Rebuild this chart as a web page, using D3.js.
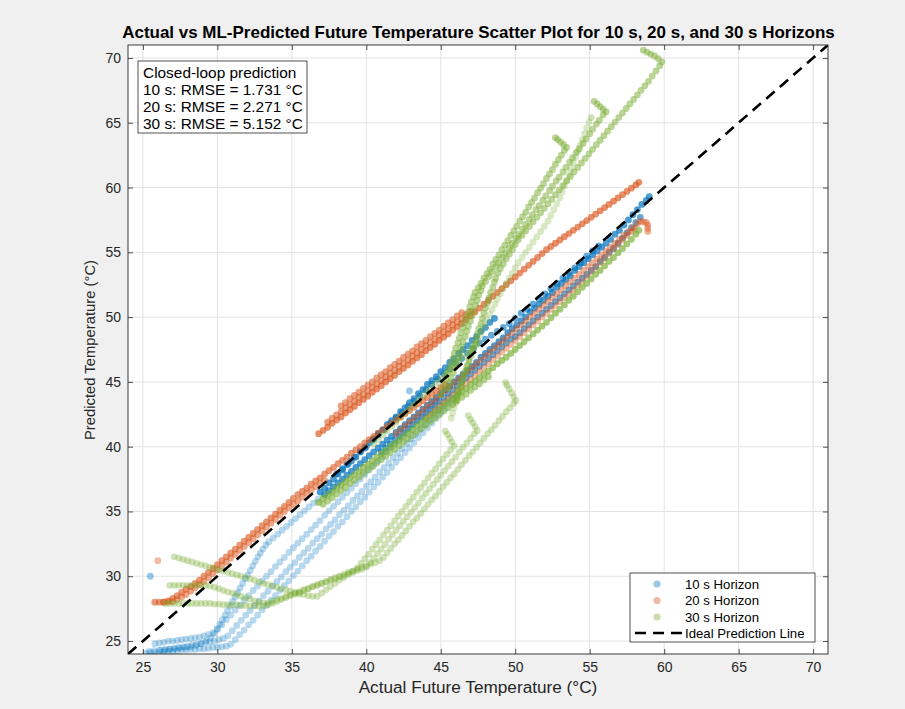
<!DOCTYPE html>
<html>
<head>
<meta charset="utf-8">
<script src="https://cdn.jsdelivr.net/npm/d3@7"></script>
<style>
  body { margin: 0; background: #f0f0f0; }
  svg { display: block; font-family: "Liberation Sans", Arial, Helvetica, sans-serif; }
</style>
</head>
<body>
<svg id="chart" width="905" height="709"></svg>
<script>
// ---------- data ----------
const axisRange = [24, 71];
const xTicks = [25, 30, 35, 40, 45, 50, 55, 60, 65, 70];
const yTicks = [25, 30, 35, 40, 45, 50, 55, 60, 65, 70];
const horizons = ["10 s", "20 s", "30 s"];
const rmse = [1.731, 2.271, 5.152];
const chartTitle = "Actual vs ML-Predicted Future Temperature Scatter Plot for 10 s, 20 s, and 30 s Horizons";
const xTitle = "Actual Future Temperature (°C)";
const yTitle = "Predicted Temperature (°C)";
const idealLabel = "Ideal Prediction Line";

// 10 s horizon: [actual, predicted] samples, one array per closed-loop run
const blueRuns = [
  [[36.9,36.5],[37.2,36.8],[37.5,37.2],[37.8,37.5],[38.1,37.9],[38.4,38.2],[38.7,38.6],[39.0,38.9],[39.3,39.2],[39.6,39.6],[39.9,39.9],[40.2,40.3],[40.5,40.6],[40.8,41.0],[41.1,41.3],[41.4,41.7],[41.7,42.0],[42.0,42.3],[42.3,42.7],[42.6,43.0],[42.9,43.4],[43.2,43.7],[43.5,44.1],[43.8,44.4],[44.1,44.8],[44.4,45.1],[44.7,45.4],[45.0,45.8],[45.3,46.1],[45.6,46.5],[45.9,46.8],[46.2,47.2],[46.5,47.5],[46.8,47.8],[47.1,48.2],[47.4,48.5],[47.7,48.9],[48.0,49.2],[48.3,49.6],[48.6,49.9]],
  [[37.2,36.3],[37.5,36.6],[37.8,36.9],[38.1,37.2],[38.4,37.5],[38.7,37.8],[39.0,38.1],[39.3,38.4],[39.6,38.7],[39.9,39.0],[40.2,39.3],[40.5,39.6],[40.8,39.9],[41.1,40.2],[41.4,40.5],[41.7,40.8],[42.0,41.1],[42.3,41.4],[42.6,41.7],[42.9,42.0],[43.2,42.3],[43.5,42.6],[43.8,42.9],[44.1,43.2],[44.4,43.5],[44.7,43.8],[45.0,44.1],[45.3,44.4],[45.6,44.7],[45.9,45.0],[46.2,45.3],[46.5,45.6],[46.8,45.9],[47.1,46.2],[47.4,46.5],[47.7,46.9],[48.0,47.2],[48.3,47.5],[48.6,47.8],[48.9,48.1],[49.2,48.4],[49.5,48.8],[49.8,49.1],[50.1,49.4],[50.4,49.7],[50.7,50.0],[51.0,50.4],[51.3,50.7],[51.6,51.0],[51.9,51.3],[52.2,51.6],[52.5,51.9],[52.8,52.3],[53.1,52.6],[53.4,52.9],[53.7,53.2],[54.0,53.6],[54.3,53.9],[54.6,54.2],[54.9,54.5],[55.2,54.8],[55.5,55.1],[55.8,55.4],[56.1,55.7],[56.4,56.0],[56.7,56.4],[57.0,56.7],[57.3,57.1],[57.6,57.5],[57.9,57.9],[58.2,58.3],[58.5,58.7],[58.8,59.0],[59.0,59.3]],
  [[41.0,39.6],[41.3,39.9],[41.6,40.2],[41.9,40.5],[42.2,40.8],[42.5,41.1],[42.8,41.4],[43.1,41.7],[43.4,42.0],[43.7,42.3],[44.0,42.6],[44.3,42.9],[44.6,43.2],[44.9,43.5],[45.2,43.8],[45.5,44.1],[45.8,44.4],[46.1,44.7],[46.4,45.0],[46.7,45.3],[47.0,45.6],[47.3,45.9],[47.6,46.2],[47.9,46.5],[48.2,46.8],[48.5,47.1],[48.8,47.4],[49.1,47.7],[49.4,48.0],[49.7,48.3],[50.0,48.5],[50.3,48.8],[50.6,49.1],[50.9,49.4],[51.2,49.7],[51.5,50.0],[51.8,50.3],[52.1,50.6],[52.4,50.9],[52.7,51.2],[53.0,51.5],[53.3,51.8],[53.6,52.1],[53.9,52.4],[54.2,52.7],[54.5,53.0],[54.8,53.3],[55.1,53.6],[55.4,53.9],[55.7,54.3],[56.0,54.6],[56.3,55.0],[56.6,55.3],[56.9,55.7],[57.2,56.1],[57.5,56.5],[57.8,56.9],[58.1,57.3],[58.4,57.7]],
  [[38.0,37.9],[38.4,38.3],[38.8,38.7],[39.2,39.2],[39.6,39.6],[40.0,40.0],[40.4,40.5],[40.8,40.9],[41.2,41.3],[41.6,41.8],[42.0,42.2],[42.4,42.6],[42.8,43.1],[43.2,43.5],[43.6,43.9],[44.0,44.4],[44.4,44.8],[44.8,45.2],[45.2,45.6],[45.6,46.0],[46.0,46.4],[46.4,46.8],[46.8,47.2],[47.2,47.6],[47.6,48.0],[48.0,48.3],[48.4,48.6],[48.8,48.9],[49.2,49.2],[49.6,49.5],[50.0,49.9],[50.4,50.3],[50.8,50.6],[51.2,51.0],[51.6,51.4],[52.0,51.8],[52.4,52.2],[52.8,52.6],[53.2,53.0],[53.6,53.4],[54.0,53.8],[54.4,54.2],[54.8,54.7],[55.2,55.1],[55.6,55.5]],
  [[25.4,24.2],[25.75,24.25],[26.1,24.3],[26.45,24.3],[26.8,24.35],[27.15,24.4],[27.5,24.45],[27.85,24.5],[28.2,24.55],[28.55,24.65],[28.9,24.8],[29.25,25.0],[29.55,25.25],[29.8,25.55],[30.0,25.95],[30.17,26.3],[30.34,26.65],[30.51,27.0],[30.68,27.35],[30.85,27.7],[31.02,28.05],[31.19,28.4],[31.36,28.75],[31.53,29.1],[31.7,29.45],[31.87,29.8],[32.04,30.1],[32.21,30.45],[32.38,30.8],[32.55,31.15],[32.72,31.5],[32.89,31.8],[33.06,32.1],[33.25,32.4],[33.45,32.65],[33.75,32.95],[34.05,33.25],[34.35,33.55],[34.65,33.85],[34.95,34.15],[35.25,34.45],[35.55,34.75],[35.85,35.05],[36.15,35.35],[36.45,35.65],[36.75,35.95]],
  [[25.8,24.8],[26.1,24.85],[26.4,24.9],[26.7,25.0],[27.0,25.0],[27.3,25.05],[27.6,25.1],[27.9,25.15],[28.2,25.2],[28.5,25.25],[28.8,25.3],[29.1,25.4],[29.4,25.5],[29.7,25.65],[30.0,25.9],[30.3,26.25],[30.6,26.65],[30.9,27.0],[31.2,27.4],[31.5,27.75],[31.8,28.15],[32.1,28.5],[32.4,28.9],[32.7,29.25],[33.0,29.65],[33.3,30.0],[33.6,30.35],[33.9,30.75],[34.2,31.1],[34.5,31.45],[34.8,31.85],[35.1,32.2],[35.4,32.55],[35.7,32.9],[36.0,33.25],[36.3,33.6],[36.6,33.95],[36.9,34.3],[37.2,34.7],[37.5,35.05],[37.8,35.4],[38.1,35.75],[38.4,36.1],[38.7,36.45],[39.0,36.8],[39.3,37.15],[39.6,37.5],[39.9,37.85],[40.2,38.2],[40.5,38.55],[40.8,38.9],[41.1,39.25],[41.4,39.6],[41.7,39.95],[42.0,40.3],[42.3,40.65],[42.6,41.0],[42.9,41.35],[43.2,41.7],[43.5,42.05],[43.8,42.4],[44.1,42.75],[44.4,43.1],[44.7,43.45]],
  [[26.2,24.3],[26.5,24.35],[26.8,24.4],[27.1,24.45],[27.4,24.5],[27.7,24.55],[28.0,24.6],[28.3,24.7],[28.6,24.75],[28.9,24.8],[29.2,24.9],[29.5,24.95],[29.8,25.0],[30.1,25.1],[30.4,25.2],[30.7,25.4],[31.0,25.8],[31.3,26.2],[31.6,26.6],[31.9,27.0],[32.2,27.35],[32.5,27.75],[32.8,28.1],[33.1,28.5],[33.4,28.85],[33.7,29.25],[34.0,29.6],[34.3,29.95],[34.6,30.35],[34.9,30.7],[35.2,31.05],[35.5,31.45],[35.8,31.8],[36.1,32.15],[36.4,32.55],[36.7,32.9],[37.0,33.25],[37.3,33.65],[37.6,34.0],[37.9,34.35],[38.2,34.75],[38.5,35.1],[38.8,35.45],[39.1,35.85],[39.4,36.2],[39.7,36.55],[40.0,36.95],[40.3,37.3],[40.6,37.65],[40.9,38.05],[41.2,38.4],[41.5,38.75],[41.8,39.15],[42.1,39.5],[42.4,39.85],[42.7,40.25],[43.0,40.6],[43.3,40.95],[43.6,41.35],[43.9,41.7],[44.2,42.05],[44.5,42.45],[44.8,42.8],[45.1,43.15],[45.4,43.55],[45.7,43.9]],
  [[25.2,24.05],[25.5,24.1],[25.8,24.1],[26.1,24.1],[26.4,24.15],[26.7,24.2],[27.0,24.2],[27.3,24.25],[27.6,24.3],[27.9,24.3],[28.2,24.35],[28.5,24.35],[28.8,24.4],[29.1,24.4],[29.4,24.45],[29.7,24.5],[30.0,24.5],[30.3,24.55],[30.6,24.6],[30.9,24.75],[31.2,25.1],[31.5,25.5],[31.8,25.85],[32.1,26.25],[32.4,26.6],[32.7,27.0],[33.0,27.4],[33.3,27.75],[33.6,28.15],[33.9,28.5],[34.2,28.9],[34.5,29.3],[34.8,29.65],[35.1,30.05],[35.4,30.4],[35.7,30.8],[36.0,31.2],[36.3,31.55],[36.6,31.95],[36.9,32.3],[37.2,32.7],[37.5,33.1],[37.8,33.45],[38.1,33.85],[38.4,34.2],[38.7,34.6],[39.0,35.0],[39.3,35.35],[39.6,35.75],[39.9,36.1],[40.2,36.5],[40.5,36.9],[40.8,37.25],[41.1,37.65],[41.4,38.0],[41.7,38.4],[42.0,38.8],[42.3,39.15],[42.6,39.55],[42.9,39.9],[43.2,40.3],[43.5,40.7],[43.8,41.05],[44.1,41.45],[44.4,41.8],[44.7,42.2],[45.0,42.6],[45.3,42.95],[45.6,43.35],[45.9,43.7],[46.2,44.1]]
];
const blueSingles = [[25.5,30.0],[42.9,44.3]];

// 20 s horizon
const orangeRuns = [
  [[25.8,28.0],[26.1,28.0],[26.4,28.0],[26.7,28.1],[27.0,28.3],[27.3,28.5],[27.6,28.75],[27.9,29.0],[28.2,29.2],[28.5,29.45],[28.8,29.7],[29.1,30.0],[29.4,30.3],[29.7,30.6],[30.0,30.9],[30.3,31.2],[30.6,31.5],[30.9,31.8],[31.2,32.1],[31.5,32.4],[31.8,32.7],[32.1,33.0],[32.4,33.3],[32.7,33.6],[33.0,33.9],[33.3,34.2],[33.6,34.5],[33.9,34.8],[34.2,35.1],[34.5,35.4],[34.8,35.7],[35.1,36.0],[35.4,36.3],[35.7,36.55],[36.0,36.8],[36.3,37.1],[36.6,37.35],[36.9,37.6],[37.2,37.9],[37.5,38.15],[37.8,38.4],[38.1,38.7],[38.4,38.95],[38.7,39.2],[39.0,39.5],[39.3,39.75],[39.6,40.0],[39.9,40.3],[40.2,40.55],[40.5,40.8],[40.8,41.05],[41.1,41.3],[41.4,41.55],[41.7,41.8],[42.0,42.05],[42.3,42.3],[42.6,42.55],[42.9,42.8],[43.2,43.05],[43.5,43.3],[43.8,43.55],[44.1,43.8],[44.4,44.05],[44.7,44.3],[45.0,44.55],[45.3,44.8]],
  [[26.4,28.0],[26.7,28.0],[27.0,28.05],[27.3,28.2],[27.6,28.4],[27.9,28.6],[28.2,28.85],[28.5,29.1],[28.8,29.35],[29.1,29.6],[29.4,29.9],[29.7,30.2],[30.0,30.5],[30.3,30.8],[30.6,31.1],[30.9,31.4],[31.2,31.7],[31.5,32.0],[31.8,32.3],[32.1,32.6],[32.4,32.9],[32.7,33.2],[33.0,33.5],[33.3,33.8],[33.6,34.1],[33.9,34.4],[34.2,34.7],[34.5,35.0],[34.8,35.3],[35.1,35.55],[35.4,35.8],[35.7,36.1],[36.0,36.4],[36.3,36.65],[36.6,36.9],[36.9,37.15],[37.2,37.4]],
  [[36.8,41.0],[37.1,41.25],[37.4,41.5],[37.7,41.8],[38.0,42.05],[38.3,42.3],[38.6,42.6],[38.9,42.85],[39.2,43.1],[39.5,43.4],[39.8,43.65],[40.1,43.9],[40.4,44.2],[40.7,44.45],[41.0,44.7],[41.3,45.0],[41.6,45.25],[41.9,45.5],[42.2,45.8],[42.5,46.05],[42.8,46.3],[43.1,46.6],[43.4,46.85],[43.7,47.1],[44.0,47.4],[44.3,47.65],[44.6,47.9],[44.9,48.2],[45.2,48.45],[45.5,48.7],[45.8,49.0],[46.1,49.25],[46.4,49.5],[46.7,49.8],[47.0,50.1],[47.3,50.4],[47.6,50.7],[47.9,51.0],[48.2,51.3],[48.5,51.6],[48.8,51.9],[49.1,52.2],[49.4,52.5],[49.7,52.8],[50.0,53.1],[50.3,53.4],[50.6,53.7],[50.9,54.0],[51.2,54.3],[51.5,54.6],[51.8,54.9],[52.1,55.2],[52.4,55.45],[52.7,55.7],[53.0,55.95],[53.3,56.2],[53.6,56.45],[53.9,56.7],[54.2,56.95],[54.5,57.2],[54.8,57.45],[55.1,57.7],[55.4,57.95],[55.7,58.2],[56.0,58.45],[56.3,58.7],[56.6,58.95],[56.9,59.2],[57.2,59.45],[57.5,59.7],[57.8,59.95],[58.1,60.2],[58.3,60.4]],
  [[37.4,41.9],[37.7,42.2],[38.0,42.45],[38.3,42.7],[38.6,43.0],[38.9,43.25],[39.2,43.5],[39.5,43.8],[39.8,44.05],[40.1,44.3],[40.4,44.6],[40.7,44.85],[41.0,45.1],[41.3,45.4],[41.6,45.65],[41.9,45.9],[42.2,46.2],[42.5,46.45],[42.8,46.7],[43.1,47.0],[43.4,47.25],[43.7,47.5],[44.0,47.8],[44.3,48.05],[44.6,48.3],[44.9,48.6],[45.2,48.85],[45.5,49.1],[45.8,49.4],[46.1,49.65],[46.4,49.9],[46.7,50.2],[47.0,50.45]],
  [[38.3,43.15],[38.6,43.4],[38.9,43.7],[39.2,43.95],[39.5,44.2],[39.8,44.5],[40.1,44.75],[40.4,45.0],[40.7,45.3],[41.0,45.55],[41.3,45.8],[41.6,46.1],[41.9,46.35],[42.2,46.6],[42.5,46.9],[42.8,47.15],[43.1,47.4],[43.4,47.7],[43.7,47.95],[44.0,48.2],[44.3,48.5],[44.6,48.75],[44.9,49.0],[45.2,49.3],[45.5,49.55],[45.8,49.8],[46.1,50.1],[46.4,50.35]],
  [[42.0,41.0],[42.3,41.3],[42.6,41.6],[42.9,41.9],[43.2,42.2],[43.5,42.5],[43.8,42.8],[44.1,43.1],[44.4,43.4],[44.7,43.7],[45.0,44.0],[45.3,44.3],[45.6,44.6],[45.9,44.9],[46.2,45.2],[46.5,45.5],[46.8,45.8],[47.1,46.1],[47.4,46.4],[47.7,46.7],[48.0,47.0],[48.3,47.3],[48.6,47.6],[48.9,47.9],[49.2,48.2],[49.5,48.5],[49.8,48.8],[50.1,49.1],[50.4,49.4],[50.7,49.7],[51.0,50.0],[51.3,50.3],[51.6,50.6],[51.9,50.9],[52.2,51.2],[52.5,51.5],[52.8,51.8],[53.1,52.1],[53.4,52.4],[53.7,52.7],[54.0,53.0],[54.3,53.3],[54.6,53.6],[54.9,53.9],[55.2,54.2],[55.5,54.5],[55.8,54.8],[56.1,55.1],[56.4,55.4],[56.7,55.7],[57.0,56.0],[57.3,56.3],[57.6,56.6],[57.9,56.9],[58.2,57.2],[58.4,57.4],[58.6,57.35],[58.8,57.3],[58.9,57.1],[58.9,56.85],[58.9,56.6]],
  [[44.0,42.2],[44.3,42.5],[44.6,42.8],[44.9,43.1],[45.2,43.4],[45.5,43.7],[45.8,44.0],[46.1,44.3],[46.4,44.6],[46.7,44.9],[47.0,45.2],[47.3,45.5],[47.6,45.8],[47.9,46.1],[48.2,46.4],[48.5,46.7],[48.8,47.0],[49.1,47.3],[49.4,47.6],[49.7,47.9],[50.0,48.2],[50.3,48.5],[50.6,48.8],[50.9,49.1],[51.2,49.4],[51.5,49.7],[51.8,50.0],[52.1,50.3],[52.4,50.6],[52.7,50.9],[53.0,51.2],[53.3,51.5],[53.6,51.8],[53.9,52.1],[54.2,52.45],[54.5,52.8],[54.8,53.15],[55.1,53.5],[55.4,53.85],[55.7,54.2],[56.0,54.55],[56.3,54.9],[56.6,55.25],[56.9,55.6],[57.2,55.95],[57.5,56.3],[57.8,56.6],[58.0,56.8]]
];
const orangeSingles = [[26.0,31.2]];

// 30 s horizon
const greenRuns = [
  [[36.8,35.7],[37.1,36.0],[37.4,36.25],[37.7,36.5],[38.0,36.8],[38.3,37.05],[38.6,37.3],[38.9,37.6],[39.2,37.85],[39.5,38.1],[39.8,38.4],[40.1,38.65],[40.4,38.9],[40.7,39.2],[41.0,39.45],[41.3,39.7],[41.6,40.0],[41.9,40.25],[42.2,40.5],[42.5,40.8],[42.8,41.05],[43.1,41.3],[43.4,41.6],[43.7,41.85],[44.0,42.1],[44.3,42.4],[44.6,42.65],[44.9,42.9],[45.2,43.2],[45.5,43.45],[45.8,43.7],[46.1,44.0],[46.4,44.25],[46.7,44.5],[47.0,44.8],[47.3,45.05],[47.6,45.3],[47.9,45.6],[48.2,45.85],[48.5,46.1],[48.8,46.4],[49.1,46.65],[49.4,46.9],[49.7,47.2],[50.0,47.5],[50.3,47.8],[50.6,48.1],[50.9,48.4],[51.2,48.7],[51.5,49.0],[51.8,49.3],[52.1,49.6],[52.4,49.95],[52.7,50.3],[53.0,50.6],[53.3,50.95],[53.6,51.3],[53.9,51.6],[54.2,51.95],[54.5,52.3],[54.8,52.6],[55.1,52.95],[55.4,53.3],[55.7,53.6],[56.0,53.95],[56.3,54.3],[56.6,54.6],[56.9,54.95],[57.2,55.3],[57.5,55.65],[57.8,56.0],[58.1,56.4],[58.3,56.7]],
  [[37.1,35.55],[37.4,35.8],[37.7,36.05],[38.0,36.35],[38.3,36.6],[38.6,36.85],[38.9,37.15],[39.2,37.4],[39.5,37.65],[39.8,37.95],[40.1,38.2],[40.4,38.45],[40.7,38.75],[41.0,39.0],[41.3,39.25],[41.6,39.55],[41.9,39.8],[42.2,40.05],[42.5,40.35],[42.8,40.6],[43.1,40.85],[43.4,41.15],[43.7,41.4],[44.0,41.65],[44.3,41.95],[44.6,42.2],[44.9,42.45],[45.2,42.75],[45.5,43.0],[45.8,43.25],[46.1,43.55],[46.4,43.8],[46.7,44.05],[47.0,44.35],[47.3,44.6],[47.6,44.85],[47.9,45.15],[48.2,45.4]],
  [[40.5,40.2],[40.8,40.55],[41.1,40.9],[41.4,41.25],[41.7,41.6],[42.0,41.9],[42.3,42.25],[42.6,42.6],[42.9,42.9],[43.2,43.25],[43.5,43.6],[43.8,43.9],[44.1,44.25],[44.4,44.6],[44.7,44.9],[45.0,45.25],[45.3,45.6],[45.6,45.9],[45.9,46.25],[46.2,46.6],[46.5,46.9],[46.8,47.25],[47.1,47.6],[47.4,47.9]],
  [[46.0,43.5],[46.1,43.9],[46.2,44.3],[46.35,44.7],[46.45,45.1],[46.55,45.5],[46.7,45.9],[46.8,46.3],[46.9,46.7],[47.0,47.1],[47.1,47.5],[47.25,47.9],[47.35,48.3],[47.45,48.7],[47.55,49.1],[47.7,49.5],[47.8,49.9],[47.9,50.3],[48.0,50.7],[48.15,51.1],[48.25,51.5],[48.35,51.9],[48.5,52.3],[48.6,52.7],[48.7,53.0],[48.85,53.4],[49.0,53.75],[49.2,54.1],[49.4,54.5],[49.6,54.85],[49.8,55.2],[50.0,55.6],[50.2,55.95],[50.45,56.3],[50.7,56.65],[50.95,57.0],[51.2,57.35],[51.45,57.7],[51.7,58.05],[51.95,58.4],[52.2,58.75],[52.45,59.1],[52.7,59.45],[52.95,59.8],[53.2,60.15],[53.45,60.5],[53.7,60.85],[53.95,61.2],[54.2,61.55],[54.45,61.9],[54.7,62.25],[54.95,62.6],[55.2,62.95],[55.45,63.3],[55.7,63.65],[55.95,64.0],[56.2,64.35],[56.45,64.7],[56.7,65.05],[56.95,65.4],[57.2,65.75],[57.45,66.1],[57.7,66.45],[57.95,66.8],[58.2,67.15],[58.45,67.5],[58.7,67.85],[58.95,68.2],[59.2,68.6],[59.45,69.0],[59.7,69.4],[59.85,69.7],[59.6,69.95],[59.35,70.15],[59.1,70.3],[58.85,70.45],[58.6,70.6]],
  [[45.5,44.5],[45.6,44.9],[45.7,45.3],[45.85,45.7],[45.95,46.1],[46.05,46.5],[46.2,46.9],[46.3,47.3],[46.4,47.7],[46.5,48.1],[46.65,48.5],[46.75,48.9],[46.85,49.3],[47.0,49.7],[47.1,50.1],[47.2,50.5],[47.35,50.9],[47.45,51.3],[47.55,51.7],[47.7,52.05],[47.8,52.4],[48.0,52.75],[48.25,53.15],[48.45,53.5],[48.7,53.9],[48.9,54.2],[49.15,54.6],[49.35,54.95],[49.6,55.35],[49.8,55.7],[50.05,56.1],[50.25,56.4],[50.5,56.8],[50.7,57.15],[50.95,57.55],[51.15,57.9],[51.4,58.3],[51.6,58.6],[51.85,59.0],[52.05,59.35],[52.3,59.75],[52.5,60.1],[52.75,60.5],[52.95,60.8],[53.2,61.2],[53.4,61.55],[53.65,61.95],[53.85,62.3],[54.1,62.7],[54.3,63.0],[54.55,63.4],[54.75,63.75],[55.0,64.15],[55.2,64.5],[55.45,64.9],[55.65,65.2],[55.9,65.6],[56.1,65.85],[55.9,66.05],[55.7,66.25],[55.5,66.45],[55.3,66.65]],
  [[45.0,44.0],[45.1,44.4],[45.2,44.8],[45.35,45.2],[45.45,45.6],[45.55,46.0],[45.7,46.4],[45.8,46.8],[45.9,47.2],[46.0,47.6],[46.15,48.0],[46.25,48.4],[46.35,48.8],[46.5,49.2],[46.6,49.6],[46.7,50.0],[46.85,50.4],[46.95,50.8],[47.05,51.2],[47.2,51.55],[47.3,51.9],[47.5,52.25],[47.7,52.6],[47.9,53.0],[48.1,53.35],[48.3,53.7],[48.5,54.1],[48.7,54.45],[48.9,54.8],[49.1,55.2],[49.3,55.55],[49.5,55.9],[49.7,56.3],[49.9,56.65],[50.1,57.0],[50.3,57.4],[50.5,57.75],[50.7,58.1],[50.9,58.5],[51.1,58.85],[51.3,59.2],[51.5,59.6],[51.7,59.95],[51.9,60.3],[52.1,60.7],[52.3,61.05],[52.5,61.4],[52.7,61.8],[52.9,62.15],[53.1,62.5],[53.3,62.85],[53.45,63.1],[53.25,63.3],[53.05,63.5],[52.85,63.7],[52.7,63.85]],
  [[45.7,42.2],[45.8,42.6],[45.9,43.0],[46.0,43.4],[46.1,43.8],[46.2,44.2],[46.3,44.6],[46.4,45.0],[46.5,45.4],[46.6,45.8],[46.75,46.2],[46.9,46.6],[47.05,47.0],[47.2,47.4],[47.35,47.8],[47.5,48.2],[47.65,48.6],[47.8,49.0],[47.95,49.4],[48.1,49.8],[48.3,50.2],[48.45,50.6],[48.65,51.0],[48.8,51.4],[49.0,51.8],[49.2,52.2],[49.4,52.6],[49.6,53.0],[49.8,53.4],[50.0,53.8],[50.2,54.2],[50.45,54.6],[50.7,55.0],[50.95,55.4],[51.2,55.8],[51.45,56.2],[51.7,56.6],[51.95,57.0],[52.2,57.4],[52.4,57.85],[52.6,58.3],[52.8,58.75],[53.0,59.2],[53.15,59.65],[53.3,60.1],[53.45,60.55],[53.6,61.0],[53.75,61.45],[53.9,61.9],[54.05,62.35],[54.2,62.8],[54.35,63.25],[54.5,63.7],[54.65,64.15],[54.8,64.6],[54.95,65.05]],
  [[27.1,31.5],[27.4,31.4],[27.7,31.3],[28.0,31.2],[28.3,31.1],[28.6,31.0],[28.9,30.9],[29.2,30.8],[29.5,30.7],[29.8,30.6],[30.1,30.5],[30.4,30.4],[30.7,30.3],[31.0,30.2],[31.3,30.1],[31.6,30.0],[31.9,29.9],[32.2,29.8],[32.5,29.7],[32.8,29.55],[33.1,29.45],[33.4,29.35],[33.7,29.25],[34.0,29.15],[34.3,29.05],[34.6,28.95],[34.9,28.85],[35.2,28.75],[35.5,28.65],[35.8,28.6],[36.1,28.5],[36.4,28.45],[36.7,28.45],[37.0,28.7],[37.3,28.95],[37.6,29.2],[37.9,29.45],[38.2,29.7],[38.5,29.9],[38.8,30.15],[39.1,30.4],[39.4,30.65],[39.65,31.0],[39.9,31.35],[40.15,31.7],[40.4,32.1],[40.65,32.45],[40.9,32.8],[41.15,33.2],[41.4,33.55],[41.65,33.9],[41.9,34.3],[42.15,34.65],[42.4,35.0],[42.65,35.4],[42.9,35.75],[43.15,36.1],[43.4,36.5],[43.65,36.85],[43.9,37.2],[44.15,37.6],[44.4,37.95],[44.65,38.3],[44.9,38.7],[45.15,39.05],[45.4,39.4],[45.65,39.75],[45.9,40.05],[45.75,40.35],[45.6,40.65],[45.45,40.95],[45.3,41.2]],
  [[26.8,29.3],[27.1,29.3],[27.4,29.3],[27.7,29.3],[28.0,29.3],[28.3,29.3],[28.6,29.3],[28.9,29.3],[29.2,29.3],[29.5,29.25],[29.8,29.15],[30.1,29.05],[30.4,28.9],[30.7,28.8],[31.0,28.7],[31.3,28.6],[31.6,28.45],[31.9,28.35],[32.2,28.25],[32.5,28.1],[32.8,28.0],[33.1,27.95],[33.4,27.95],[33.7,28.05],[34.0,28.2],[34.3,28.3],[34.6,28.45],[34.9,28.55],[35.2,28.7],[35.5,28.8],[35.8,28.95],[36.1,29.05],[36.4,29.2],[36.7,29.3],[37.0,29.45],[37.3,29.55],[37.6,29.7],[37.9,29.8],[38.2,29.95],[38.5,30.05],[38.8,30.2],[39.1,30.3],[39.4,30.45],[39.7,30.55],[40.0,30.7],[40.25,31.05],[40.5,31.4],[40.75,31.75],[41.0,32.1],[41.25,32.45],[41.5,32.85],[41.75,33.2],[42.0,33.55],[42.25,33.9],[42.5,34.25],[42.75,34.6],[43.0,34.95],[43.25,35.3],[43.5,35.65],[43.75,36.05],[44.0,36.4],[44.25,36.75],[44.5,37.1],[44.75,37.45],[45.0,37.8],[45.25,38.15],[45.5,38.5],[45.75,38.85],[46.0,39.2],[46.25,39.6],[46.5,39.95],[46.75,40.3],[47.0,40.65],[47.25,41.0],[47.45,41.25],[47.3,41.55],[47.15,41.85],[47.0,42.1],[46.85,42.4]],
  [[26.5,27.9],[26.8,27.9],[27.1,27.9],[27.4,27.9],[27.7,27.9],[28.0,27.9],[28.3,27.9],[28.6,27.9],[28.9,27.9],[29.2,27.9],[29.5,27.9],[29.8,27.85],[30.1,27.85],[30.4,27.8],[30.7,27.8],[31.0,27.8],[31.3,27.8],[31.6,27.75],[31.9,27.75],[32.2,27.7],[32.5,27.7],[32.8,27.7],[33.1,27.7],[33.4,27.8],[33.7,27.9],[34.0,28.05],[34.3,28.2],[34.6,28.35],[34.9,28.5],[35.2,28.6],[35.5,28.75],[35.8,28.9],[36.1,29.05],[36.4,29.2],[36.7,29.35],[37.0,29.45],[37.3,29.6],[37.6,29.75],[37.9,29.9],[38.2,30.0],[38.5,30.15],[38.8,30.3],[39.1,30.4],[39.4,30.55],[39.7,30.7],[40.0,30.8],[40.3,30.95],[40.6,31.05],[40.9,31.2],[41.15,31.45],[41.4,31.8],[41.65,32.15],[41.9,32.5],[42.15,32.8],[42.4,33.15],[42.65,33.5],[42.9,33.85],[43.15,34.2],[43.4,34.5],[43.65,34.85],[43.9,35.2],[44.15,35.55],[44.4,35.9],[44.65,36.2],[44.9,36.55],[45.15,36.9],[45.4,37.25],[45.65,37.6],[45.9,37.9],[46.15,38.25],[46.4,38.6],[46.65,38.95],[46.9,39.3],[47.15,39.6],[47.4,39.95],[47.65,40.3],[47.9,40.65],[48.15,41.0],[48.4,41.3],[48.65,41.65],[48.9,42.0],[49.15,42.35],[49.4,42.7],[49.65,43.0],[49.9,43.35],[50.05,43.55],[49.9,43.85],[49.75,44.15],[49.6,44.45],[49.45,44.75],[49.35,44.95]]
];
const greenSingles = [[55.1,65.4]];

// ---------- styling ----------
const seriesColors = ["#0072BD", "#D95319", "#77AC30"];
// fill opacity per run: repeated overlapping runs read darker than single pale runs
const blueOpacity   = [0.7, 0.7, 0.6, 0.6, 0.28, 0.28, 0.28, 0.28];
const orangeOpacity = [0.6, 0.5, 0.65, 0.55, 0.55, 0.45, 0.4];
const greenOpacity  = [0.65, 0.55, 0.35, 0.5, 0.5, 0.5, 0.28, 0.35, 0.35, 0.35];
const markerR = 3.4;

const svg = d3.select("#chart");
const W = 905, H = 709;
const box = { left: 128, right: 828, top: 45, bottom: 654 };

svg.append("rect").attr("width", W).attr("height", H).attr("fill", "#f0f0f0");

const x = d3.scaleLinear().domain(axisRange).range([box.left, box.right]);
const y = d3.scaleLinear().domain(axisRange).range([box.bottom, box.top]);

svg.append("rect")
  .attr("x", box.left).attr("y", box.top)
  .attr("width", box.right - box.left).attr("height", box.bottom - box.top)
  .attr("fill", "#ffffff");

// grid
const grid = svg.append("g").attr("stroke", "#e3e3e3").attr("stroke-width", 1);
grid.selectAll("line.gx").data(xTicks).join("line")
  .attr("x1", d => x(d)).attr("x2", d => x(d))
  .attr("y1", box.top).attr("y2", box.bottom);
grid.selectAll("line.gy").data(yTicks).join("line")
  .attr("y1", d => y(d)).attr("y2", d => y(d))
  .attr("x1", box.left).attr("x2", box.right);

svg.append("clipPath").attr("id", "plotClip")
  .append("rect").attr("x", box.left).attr("y", box.top)
  .attr("width", box.right - box.left).attr("height", box.bottom - box.top);

const plot = svg.append("g").attr("clip-path", "url(#plotClip)");

function drawRuns(runs, opacities, singles, color, singleOpacity) {
  const g = plot.append("g");
  runs.forEach((run, i) => {
    g.append("g").selectAll("circle").data(run).join("circle")
      .attr("cx", d => x(d[0])).attr("cy", d => y(d[1]))
      .attr("r", markerR).attr("fill", color)
      .attr("fill-opacity", opacities[i]);
  });
  g.append("g").selectAll("circle").data(singles).join("circle")
    .attr("cx", d => x(d[0])).attr("cy", d => y(d[1]))
    .attr("r", markerR).attr("fill", color).attr("fill-opacity", singleOpacity);
}
drawRuns(blueRuns, blueOpacity, blueSingles, seriesColors[0], 0.4);
drawRuns(orangeRuns, orangeOpacity, orangeSingles, seriesColors[1], 0.4);
drawRuns(greenRuns, greenOpacity, greenSingles, seriesColors[2], 0.35);

// ideal y = x line
plot.append("line")
  .attr("x1", x(axisRange[0])).attr("y1", y(axisRange[0]))
  .attr("x2", x(axisRange[1])).attr("y2", y(axisRange[1]))
  .attr("stroke", "#000").attr("stroke-width", 2.6)
  .attr("stroke-dasharray", "11,7");

// axes (ticks point inward on all four sides)
const axisColor = "#262626";
function styleAxis(g, labels) {
  g.select(".domain").remove();
  g.selectAll(".tick line").attr("stroke", axisColor).attr("stroke-width", 0.8);
  g.selectAll(".tick text").attr("fill", axisColor).attr("font-size", 14);
  if (!labels) g.selectAll(".tick text").remove();
}
svg.append("g").attr("transform", `translate(0,${box.bottom})`)
  .call(d3.axisBottom(x).tickValues(xTicks).tickSize(-5).tickPadding(8).tickFormat(d3.format("d")))
  .call(g => styleAxis(g, true));
svg.append("g").attr("transform", `translate(0,${box.top})`)
  .call(d3.axisTop(x).tickValues(xTicks).tickSize(-5))
  .call(g => styleAxis(g, false));
svg.append("g").attr("transform", `translate(${box.left},0)`)
  .call(d3.axisLeft(y).tickValues(yTicks).tickSize(-5).tickPadding(7).tickFormat(d3.format("d")))
  .call(g => styleAxis(g, true));
svg.append("g").attr("transform", `translate(${box.right},0)`)
  .call(d3.axisRight(y).tickValues(yTicks).tickSize(-5))
  .call(g => styleAxis(g, false));

svg.append("rect")
  .attr("x", box.left).attr("y", box.top)
  .attr("width", box.right - box.left).attr("height", box.bottom - box.top)
  .attr("fill", "none").attr("stroke", axisColor).attr("stroke-width", 0.9);

function fitWidth(sel, target) {
  const w = sel.node().getComputedTextLength();
  const fs = parseFloat(sel.attr("font-size"));
  if (w > 0) sel.attr("font-size", (fs * target / w).toFixed(2));
}

// titles
const t = svg.append("text").attr("x", 478.5).attr("y", 38)
  .attr("text-anchor", "middle").attr("font-weight", "bold")
  .attr("font-size", 14).attr("fill", "#000").text(chartTitle);
fitWidth(t, 713);

const xl = svg.append("text").attr("x", 478).attr("y", 693)
  .attr("text-anchor", "middle").attr("font-size", 15).attr("fill", axisColor).text(xTitle);
fitWidth(xl, 239);

const yl = svg.append("text").attr("transform", "translate(95,350) rotate(-90)")
  .attr("text-anchor", "middle").attr("font-size", 15).attr("fill", axisColor).text(yTitle);
fitWidth(yl, 180);

// RMSE annotation box
const ann = svg.append("g");
ann.append("rect").attr("x", 138).attr("y", 61).attr("width", 169).attr("height", 72)
  .attr("fill", "#fff").attr("stroke", axisColor).attr("stroke-width", 0.8);
const annLines = ["Closed-loop prediction"].concat(
  horizons.map((h, i) => `${h}: RMSE = ${rmse[i].toFixed(3)} °C`));
const annText = ann.selectAll("text").data(annLines).join("text")
  .attr("x", 143).attr("y", (d, i) => 78 + i * 17)
  .attr("font-size", 15).attr("fill", "#000").text(d => d);
const annW = annText.nodes()[1].getComputedTextLength();
annText.attr("font-size", (15 * 160 / annW).toFixed(2));

// series legend
const lg = svg.append("g");
lg.append("rect").attr("x", 630).attr("y", 573).attr("width", 185).attr("height", 69)
  .attr("fill", "#fff").attr("stroke", axisColor).attr("stroke-width", 0.8);
const rows = [584, 600.5, 617, 633];
horizons.forEach((h, i) => {
  lg.append("circle").attr("cx", 657).attr("cy", rows[i]).attr("r", 3.6)
    .attr("fill", seriesColors[i]).attr("fill-opacity", 0.4);
  lg.append("text").attr("x", 685).attr("y", rows[i] + 4.8)
    .attr("font-size", 13.2).attr("fill", "#000").text(`${h} Horizon`);
});
lg.append("line").attr("x1", 635).attr("x2", 682).attr("y1", rows[3]).attr("y2", rows[3])
  .attr("stroke", "#000").attr("stroke-width", 2.6).attr("stroke-dasharray", "11,7");
lg.append("text").attr("x", 685).attr("y", rows[3] + 4.8)
  .attr("font-size", 13.2).attr("fill", "#000").text(idealLabel);
</script>
</body>
</html>
